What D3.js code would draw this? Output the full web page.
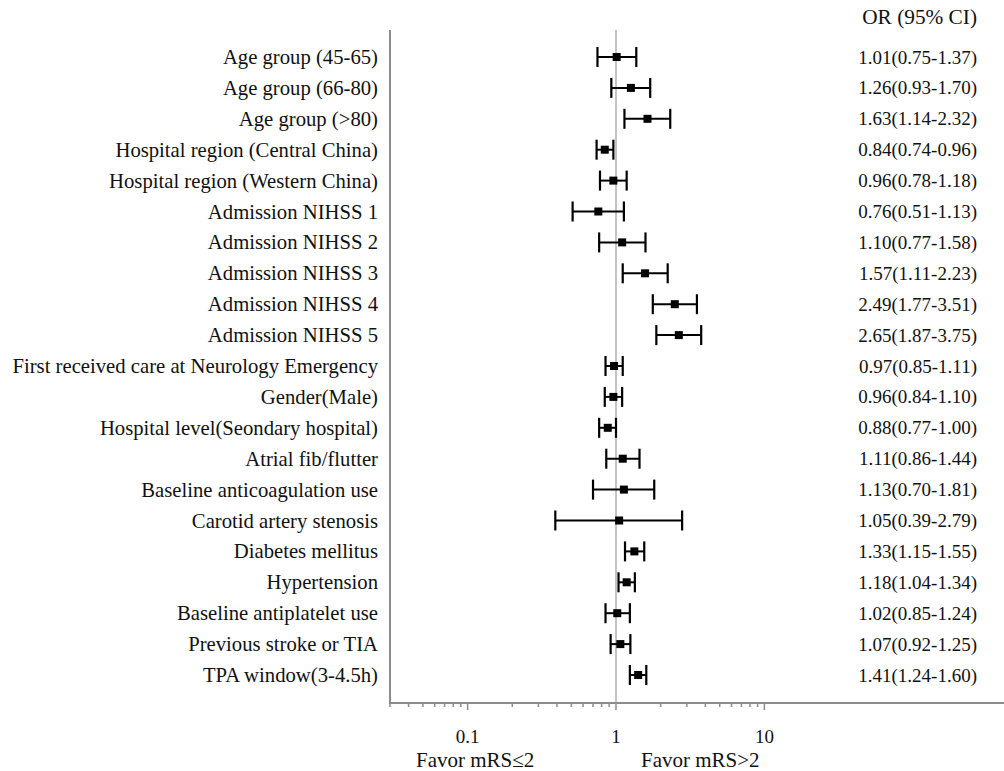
<!DOCTYPE html>
<html>
<head>
<meta charset="utf-8">
<script src="https://cdn.jsdelivr.net/npm/d3@7"></script>
<style>
  body { margin: 0; background: #fff; }
  svg text { font-family: "Liberation Serif", "Times New Roman", serif; fill: #111; }
</style>
</head>
<body>
<svg width="1004" height="771"></svg>
<script>
var labels = [
  "Age group (45-65)", "Age group (66-80)", "Age group (>80)",
  "Hospital region (Central China)", "Hospital region (Western China)",
  "Admission NIHSS 1", "Admission NIHSS 2", "Admission NIHSS 3",
  "Admission NIHSS 4", "Admission NIHSS 5",
  "First received care at Neurology Emergency", "Gender(Male)",
  "Hospital level(Seondary hospital)", "Atrial fib/flutter",
  "Baseline anticoagulation use", "Carotid artery stenosis",
  "Diabetes mellitus ", "Hypertension", "Baseline antiplatelet use",
  "Previous stroke or TIA", "TPA window(3-4.5h)"
];
var or = [1.01, 1.26, 1.63, 0.84, 0.96, 0.76, 1.10, 1.57, 2.49, 2.65, 0.97, 0.96, 0.88, 1.11, 1.13, 1.05, 1.33, 1.18, 1.02, 1.07, 1.41];
var lower = [0.75, 0.93, 1.14, 0.74, 0.78, 0.51, 0.77, 1.11, 1.77, 1.87, 0.85, 0.84, 0.77, 0.86, 0.70, 0.39, 1.15, 1.04, 0.85, 0.92, 1.24];
var upper = [1.37, 1.70, 2.32, 0.96, 1.18, 1.13, 1.58, 2.23, 3.51, 3.75, 1.11, 1.10, 1.00, 1.44, 1.81, 2.79, 1.55, 1.34, 1.24, 1.25, 1.60];
var majorTicks = [0.1, 1, 10];
var minorTicks = [0.03, 0.04, 0.05, 0.06, 0.07, 0.08, 0.09,
  0.2, 0.3, 0.4, 0.5, 0.6, 0.7, 0.8, 0.9,
  2, 3, 4, 5, 6, 7, 8, 9];

var svg = d3.select("svg");
var axisY = 703;
var plotTop = 30;

var x = d3.scaleLog().domain([0.03, 1]).range([390, 616]);
var rows = d3.range(labels.length);
var y = d3.scalePoint().domain(rows).range([57, 675]);

var fmt = function (v) { return v.toFixed(2); };

// left vertical line and reference line at OR = 1
svg.append("line")
  .attr("x1", 390).attr("x2", 390).attr("y1", plotTop).attr("y2", axisY)
  .attr("stroke", "#8c8c8c").attr("stroke-width", 2);
svg.append("line")
  .attr("x1", x(1)).attr("x2", x(1)).attr("y1", plotTop).attr("y2", axisY)
  .attr("stroke", "#c4c4c4").attr("stroke-width", 2);

// x axis
var g = svg.append("g").attr("transform", "translate(0," + axisY + ")");
g.append("line")
  .attr("x1", 389).attr("x2", 1004)
  .attr("stroke", "#8c8c8c").attr("stroke-width", 2);
g.selectAll(".minor")
  .data(minorTicks).enter().append("line")
  .attr("class", "minor")
  .attr("x1", d => x(d)).attr("x2", d => x(d))
  .attr("y1", 0).attr("y2", 4)
  .attr("stroke", "#8c8c8c").attr("stroke-width", 1.5);
g.selectAll(".major")
  .data(majorTicks).enter().append("line")
  .attr("class", "major")
  .attr("x1", d => x(d)).attr("x2", d => x(d))
  .attr("y1", 0).attr("y2", 7)
  .attr("stroke", "#8c8c8c").attr("stroke-width", 1.5);
g.selectAll(".tlabel")
  .data(majorTicks).enter().append("text")
  .attr("class", "tlabel")
  .attr("x", d => x(d)).attr("y", 40)
  .attr("text-anchor", "middle")
  .style("font-size", "19px")
  .text(d => d);

svg.append("text").attr("x", 416).attr("y", 767).style("font-size", "21px").text("Favor mRS≤2");
svg.append("text").attr("x", 641).attr("y", 767).style("font-size", "21px").text("Favor mRS>2");

// row labels
svg.selectAll(".rlabel")
  .data(rows).enter().append("text")
  .attr("class", "rlabel")
  .attr("x", 378).attr("y", d => y(d) + 7)
  .attr("text-anchor", "end")
  .style("font-size", "20.7px")
  .text(d => labels[d]);

// OR column
svg.append("text").attr("x", 977).attr("y", 24)
  .attr("text-anchor", "end").style("font-size", "21.3px").text("OR (95% CI)");
svg.selectAll(".orlabel")
  .data(rows).enter().append("text")
  .attr("class", "orlabel")
  .attr("x", 977).attr("y", d => y(d) + 6.5)
  .attr("text-anchor", "end")
  .style("font-size", "19px")
  .text(d => fmt(or[d]) + "(" + fmt(lower[d]) + "-" + fmt(upper[d]) + ")");

// error bars
var bars = svg.selectAll(".bar")
  .data(rows).enter().append("g")
  .attr("class", "bar")
  .attr("transform", d => "translate(0," + y(d) + ")");
bars.append("line")
  .attr("x1", d => x(lower[d])).attr("x2", d => x(upper[d]))
  .attr("stroke", "#000").attr("stroke-width", 2);
bars.append("line")
  .attr("x1", d => x(lower[d])).attr("x2", d => x(lower[d]))
  .attr("y1", -10).attr("y2", 10)
  .attr("stroke", "#000").attr("stroke-width", 2.2);
bars.append("line")
  .attr("x1", d => x(upper[d])).attr("x2", d => x(upper[d]))
  .attr("y1", -10).attr("y2", 10)
  .attr("stroke", "#000").attr("stroke-width", 2.2);
bars.append("rect")
  .attr("x", d => x(or[d]) - 4).attr("y", -4)
  .attr("width", 8).attr("height", 8)
  .attr("fill", "#000");
</script>
</body>
</html>
